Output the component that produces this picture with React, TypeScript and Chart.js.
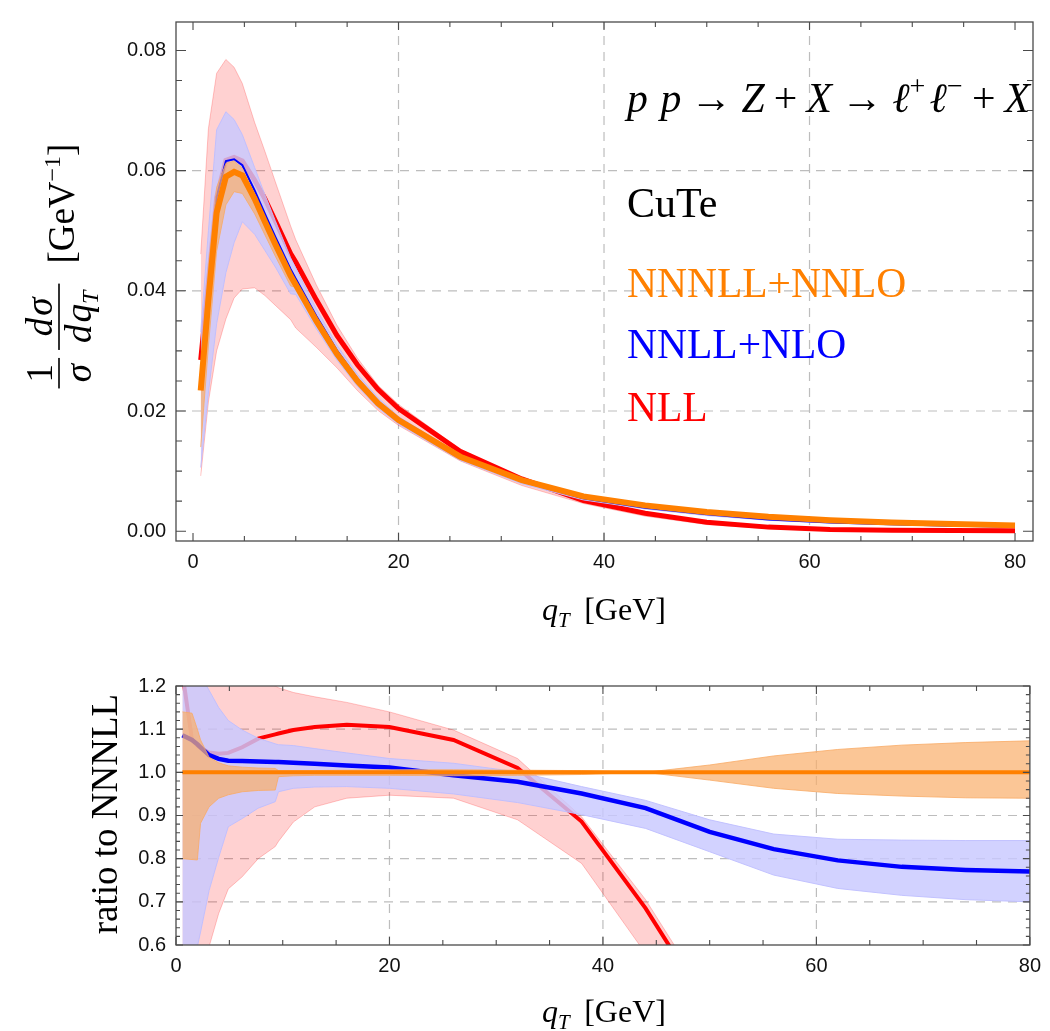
import React, { useEffect, useRef } from "react";
import { Chart, registerables } from "chart.js";

Chart.register(...registerables);

// ---------------- data (top panel: normalized distribution) ----------------
const topQ = [0.75, 1.5, 2.3, 3.2, 4, 4.8, 6, 7, 8, 9.5, 10, 12, 14, 16, 18, 20, 26, 32, 38, 44, 50, 56, 62, 68, 74, 80];

const nnnllTop = [0.0234, 0.0385, 0.053, 0.059, 0.0598, 0.0592, 0.0553, 0.0515, 0.0478, 0.0425, 0.041, 0.035, 0.0295, 0.025, 0.0213, 0.0185, 0.0124, 0.0085, 0.0058, 0.0043, 0.0032, 0.0024, 0.00184, 0.00146, 0.0012, 0.00097];
const nnnllTopHi = [0.0267, 0.0438, 0.0572, 0.0612, 0.0616, 0.0604, 0.056, 0.0521, 0.0483, 0.0429, 0.0412, 0.0352, 0.0297, 0.0252, 0.0215, 0.0187, 0.0125, 0.00857, 0.00583, 0.00429, 0.00325, 0.00247, 0.00194, 0.00155, 0.00128, 0.00104];
const nnnllTopLo = [0.014, 0.0308, 0.0466, 0.0543, 0.0565, 0.0562, 0.0528, 0.0493, 0.0458, 0.0408, 0.0406, 0.0347, 0.0292, 0.0248, 0.021, 0.0183, 0.0123, 0.00843, 0.00577, 0.00427, 0.00314, 0.00229, 0.00175, 0.00138, 0.00113, 0.00091];

const nnllTop = [0.0255, 0.0412, 0.0556, 0.0616, 0.0619, 0.0609, 0.0567, 0.0528, 0.049, 0.0436, 0.042, 0.0358, 0.0301, 0.0254, 0.0216, 0.0187, 0.0123, 0.0083, 0.0055, 0.0039, 0.0028, 0.00196, 0.00146, 0.00114, 0.00092, 0.00075];
const nnllTopHi = [0.0331, 0.05, 0.0668, 0.0698, 0.0685, 0.066, 0.0605, 0.056, 0.0517, 0.0455, 0.0438, 0.037, 0.031, 0.0261, 0.0222, 0.0191, 0.0127, 0.0085, 0.0056, 0.004, 0.0028, 0.00204, 0.00155, 0.00123, 0.00101, 0.00082];
const nnllTopLo = [0.0106, 0.023, 0.0345, 0.043, 0.048, 0.0515, 0.0494, 0.0467, 0.044, 0.0395, 0.0394, 0.0337, 0.0285, 0.0241, 0.0205, 0.0178, 0.0118, 0.0079, 0.0052, 0.0037, 0.0026, 0.00181, 0.00135, 0.00104, 0.00085, 0.00068];

const nllTop = [0.0285, 0.0415, 0.0555, 0.0617, 0.0622, 0.0616, 0.0584, 0.0553, 0.0517, 0.0462, 0.0448, 0.0385, 0.0326, 0.0277, 0.0236, 0.0204, 0.0133, 0.0087, 0.0051, 0.003, 0.00148, 0.00068, 0.0003, 0.00016, 0.0001, 0.00006];
const nllTopHi = [0.0461, 0.067, 0.0762, 0.0785, 0.0772, 0.0745, 0.068, 0.0632, 0.0582, 0.0508, 0.0485, 0.041, 0.0343, 0.0288, 0.0243, 0.0211, 0.0136, 0.0088, 0.0052, 0.003, 0.0016, 0.0008, 0.0004, 0.0002, 0.00012, 0.00008];
const nllTopLo = [0.0092, 0.0215, 0.03, 0.0353, 0.0388, 0.0403, 0.0405, 0.0392, 0.0376, 0.0352, 0.0338, 0.0306, 0.0272, 0.0234, 0.0201, 0.0176, 0.0117, 0.0076, 0.0046, 0.0025, 0.0011, 0.0004, 0.00012, 0.00005, 0.00003, 0.00002];

// ---------------- data (bottom panel: ratio to NNNLL) ----------------
const ratioQ = [0.6, 1.5, 2.0, 2.3, 3.1, 4, 4.9, 6.2, 7.7, 9.3, 9.6, 11, 13, 16, 20, 26, 32, 38, 44, 50, 56, 62, 68, 74, 80];

const nnnllRatio = [1, 1, 1, 1, 1, 1, 1, 1, 1, 1, 1, 1, 1, 1, 1, 1, 1, 1, 1, 1, 1, 1, 1, 1, 1];
const nnnllRatioHi = [1.14, 1.137, 1.1, 1.075, 1.035, 1.022, 1.015, 1.012, 1.01, 1.009, 1.004, 1.004, 1.004, 1.005, 1.006, 1.006, 1.005, 1.004, 1.0, 1.017, 1.038, 1.053, 1.063, 1.069, 1.073];
const nnnllRatioLo = [0.8, 0.798, 0.797, 0.882, 0.92, 0.94, 0.948, 0.955, 0.958, 0.959, 0.99, 0.992, 0.993, 0.993, 0.993, 0.992, 0.993, 0.995, 1.0, 0.982, 0.963, 0.951, 0.945, 0.941, 0.94];

const nnllRatio = [1.086, 1.075, 1.065, 1.058, 1.04, 1.031, 1.027, 1.026, 1.025, 1.024, 1.024, 1.022, 1.02, 1.016, 1.011, 0.993, 0.978, 0.951, 0.917, 0.862, 0.822, 0.796, 0.781, 0.774, 0.77];
const nnllRatioHi = [1.3, 1.27, 1.24, 1.225, 1.19, 1.15, 1.12, 1.098, 1.079, 1.066, 1.064, 1.062, 1.055, 1.045, 1.032, 1.021, 1.001, 0.967, 0.935, 0.89, 0.857, 0.845, 0.843, 0.842, 0.842];
const nnllRatioLo = [0.4, 0.5, 0.596, 0.63, 0.726, 0.803, 0.874, 0.893, 0.917, 0.932, 0.955, 0.963, 0.966, 0.967, 0.963, 0.95, 0.93, 0.902, 0.87, 0.816, 0.762, 0.731, 0.715, 0.705, 0.7];

const nllRatio = [1.23, 1.075, 1.062, 1.056, 1.046, 1.043, 1.045, 1.058, 1.078, 1.088, 1.09, 1.098, 1.105, 1.11, 1.105, 1.075, 1.01, 0.886, 0.685, 0.45, 0.28, 0.15, 0.1, 0.07, 0.05];
const nllRatioHi = [1.6, 1.55, 1.5, 1.48, 1.42, 1.36, 1.31, 1.26, 1.21, 1.2, 1.196, 1.185, 1.175, 1.162, 1.14, 1.098, 1.032, 0.897, 0.705, 0.47, 0.3, 0.16, 0.11, 0.08, 0.06];
const nllRatioLo = [0.2, 0.3, 0.4, 0.45, 0.596, 0.673, 0.73, 0.758, 0.8, 0.828, 0.84, 0.885, 0.92, 0.94, 0.947, 0.94, 0.89, 0.789, 0.58, 0.4, 0.25, 0.13, 0.09, 0.06, 0.04];

// ---------------- ticks and labels ----------------
const topXTicks = [0, 20, 40, 60, 80];
const topYTicks = [0, 0.02, 0.04, 0.06, 0.08];
const ratioXTicks = [0, 20, 40, 60, 80];
const ratioYTicks = [0.6, 0.7, 0.8, 0.9, 1.0, 1.1, 1.2];
const topXGrid = [20, 40, 60];
const topYGrid = [0.02, 0.04, 0.06];
const ratioXGrid = [20, 40, 60];
const ratioYGrid = [0.7, 0.8, 0.9, 1.0, 1.1];
const legendLabels = ["NNNLL+NNLO", "NNLL+NLO", "NLL"];
const codeName = "CuTe";
const ratioTitle = "ratio to NNNLL";

// ---------------- styles ----------------
const RED = "#ff0000";
const BLUE = "#0000ff";
const ORANGE = "#ff8000";
const RED_BAND = "rgba(255,0,0,0.18)";
const RED_EDGE = "rgba(255,0,0,0.22)";
const BLUE_BAND = "rgba(200,200,255,0.82)";
const BLUE_EDGE = "rgba(190,190,255,0.9)";
const ORANGE_BAND = "rgba(249,176,110,0.72)";
const ORANGE_EDGE = "rgba(249,170,100,0.8)";
const SERIF = '"Liberation Serif", "Times New Roman", "DejaVu Serif", serif';
const SANS = '"Liberation Sans", Arial, "DejaVu Sans", sans-serif';
const FRAME = "#4a4a4a";

type Run = { t: string; f: string; dy?: number; dx?: number };

function runsWidth(ctx: CanvasRenderingContext2D, runs: Run[]) {
  let w = 0;
  for (const r of runs) {
    ctx.font = r.f;
    w += ctx.measureText(r.t).width + (r.dx || 0);
  }
  return w;
}
function drawRuns(ctx: CanvasRenderingContext2D, runs: Run[], x: number, y: number) {
  let cx = x;
  for (const r of runs) {
    ctx.font = r.f;
    cx += r.dx || 0;
    ctx.fillText(r.t, cx, y + (r.dy || 0));
    cx += ctx.measureText(r.t).width;
  }
}

function pts(xs: number[], ys: number[]) {
  return xs.map((x, i) => ({ x, y: ys[i] }));
}

function buildDatasets(
  xs: number[],
  series: { c: number[]; lo: number[]; hi: number[]; line: string; band: string; edge: string; w: number }[]
) {
  const ds: any[] = [];
  let order = series.length * 2;
  series.forEach((s) => {
    const loIdx = ds.length;
    ds.push({ data: pts(xs, s.lo), borderColor: s.edge, borderWidth: 1, pointRadius: 0, fill: false, order, tension: 0 });
    ds.push({ data: pts(xs, s.hi), borderColor: s.edge, borderWidth: 1, pointRadius: 0, fill: loIdx, backgroundColor: s.band, order, tension: 0 });
    order -= 1;
    ds.push({ data: pts(xs, s.c), borderColor: s.line, borderWidth: s.w, pointRadius: 0, fill: false, order, tension: 0 });
    order -= 1;
  });
  ds.forEach((d) => (d.clip = 0));
  return ds;
}

function minorValues(lo: number, hi: number, step: number, majors: number[]) {
  const out: number[] = [];
  const n0 = Math.ceil(lo / step - 1e-9);
  const n1 = Math.floor(hi / step + 1e-9);
  for (let n = n0; n <= n1; n++) {
    const v = n * step;
    if (!majors.some((m) => Math.abs(m - v) < step * 1e-3)) out.push(v);
  }
  return out;
}

function framePlugin(cfg: {
  xMajor: number[]; xStep: number; yMajor: number[]; yStep: number;
  xGrid: number[]; yGrid: number[];
  xMaj: number; xMin: number; yMaj: number; yMin: number;
}) {
  return {
    id: "frameTicks",
    beforeDatasetsDraw(chart: any) {
      const { ctx, chartArea: a, scales } = chart;
      ctx.save();
      ctx.strokeStyle = "rgba(185,185,185,0.95)";
      ctx.lineWidth = 1.2;
      ctx.setLineDash([9, 7]);
      for (const v of cfg.xGrid) {
        const x = scales.x.getPixelForValue(v);
        ctx.beginPath(); ctx.moveTo(x, a.bottom); ctx.lineTo(x, a.top); ctx.stroke();
      }
      for (const v of cfg.yGrid) {
        const y = scales.y.getPixelForValue(v);
        ctx.beginPath(); ctx.moveTo(a.left, y); ctx.lineTo(a.right, y); ctx.stroke();
      }
      ctx.restore();
    },
    afterDatasetsDraw(chart: any) {
      const { ctx, chartArea: a, scales } = chart;
      ctx.save();
      ctx.strokeStyle = FRAME;
      ctx.lineWidth = 1.3;
      ctx.strokeRect(a.left, a.top, a.right - a.left, a.bottom - a.top);
      ctx.lineWidth = 1.1;
      const xs = scales.x, ys = scales.y;
      const xMinor = minorValues(xs.min, xs.max, cfg.xStep, cfg.xMajor);
      const yMinor = minorValues(ys.min, ys.max, cfg.yStep, cfg.yMajor);
      const xt = (v: number, len: number) => {
        const x = xs.getPixelForValue(v);
        ctx.beginPath();
        ctx.moveTo(x, a.bottom); ctx.lineTo(x, a.bottom - len);
        ctx.moveTo(x, a.top); ctx.lineTo(x, a.top + len);
        ctx.stroke();
      };
      const yt = (v: number, len: number) => {
        const y = ys.getPixelForValue(v);
        ctx.beginPath();
        ctx.moveTo(a.left, y); ctx.lineTo(a.left + len, y);
        ctx.moveTo(a.right, y); ctx.lineTo(a.right - len, y);
        ctx.stroke();
      };
      cfg.xMajor.forEach((v) => xt(v, cfg.xMaj));
      xMinor.forEach((v) => xt(v, cfg.xMin));
      cfg.yMajor.forEach((v) => yt(v, cfg.yMaj));
      yMinor.forEach((v) => yt(v, cfg.yMin));
      ctx.restore();
    },
  };
}

function qtRuns(S: number): Run[] {
  return [
    { t: "q", f: `italic ${S}px ${SERIF}` },
    { t: "T", f: `italic ${Math.round(S * 0.66)}px ${SERIF}`, dy: S * 0.22 },
    { t: "[GeV]", f: `${S}px ${SERIF}`, dx: S * 0.45 },
  ];
}

function drawFrac(ctx: CanvasRenderingContext2D, num: Run[], den: Run[], u: number, fw: number, S: number) {
  drawRuns(ctx, num, u + (fw - runsWidth(ctx, num)) / 2, -S * 0.2);
  drawRuns(ctx, den, u + (fw - runsWidth(ctx, den)) / 2, S * 0.86);
  ctx.fillRect(u, -0.8, fw, 1.6);
}

const topTextPlugin = {
  id: "topText",
  afterDraw(chart: any) {
    const ctx: CanvasRenderingContext2D = chart.ctx;
    ctx.save();
    ctx.textAlign = "left";
    ctx.textBaseline = "alphabetic";
    ctx.fillStyle = "#000";

    // process label
    const mk = (S: number): Run[] => {
      const it = `italic ${S}px ${SERIF}`;
      const rm = `${S}px ${SERIF}`;
      const sp = `${Math.round(S * 0.66)}px ${SERIF}`;
      const up = -S * 0.4;
      const g = S * 0.22;
      return [
        { t: "p", f: it }, { t: "p", f: it, dx: S * 0.3 },
        { t: "\u2192", f: rm, dx: g }, { t: "Z", f: it, dx: g }, { t: "+", f: rm, dx: g }, { t: "X", f: it, dx: g },
        { t: "\u2192", f: rm, dx: g }, { t: "\u2113", f: it, dx: g }, { t: "+", f: sp, dy: up },
        { t: "\u2113", f: it, dx: S * 0.1 }, { t: "\u2212", f: sp, dy: up },
        { t: "+", f: rm, dx: g }, { t: "X", f: it, dx: g },
      ];
    };
    let S = 36;
    const w0 = runsWidth(ctx, mk(S));
    S = (S * 403) / w0;
    drawRuns(ctx, mk(S), 627, 112);

    ctx.font = `42px ${SERIF}`;
    ctx.fillStyle = "#000";
    ctx.fillText(codeName, 627, 217);
    ctx.font = `41.5px ${SERIF}`;
    ctx.fillStyle = ORANGE;
    ctx.fillText(legendLabels[0], 627, 297);
    ctx.fillStyle = BLUE;
    ctx.fillText(legendLabels[1], 627, 358);
    ctx.fillStyle = RED;
    ctx.fillText(legendLabels[2], 627, 421);

    // x title
    ctx.fillStyle = "#000";
    const xr = qtRuns(32);
    drawRuns(ctx, xr, 604 - runsWidth(ctx, xr) / 2, 620);

    // y title (rotated)
    const Y = 37;
    const rm = `${Y}px ${SERIF}`, it = `italic ${Y}px ${SERIF}`;
    const sub = `italic ${Math.round(Y * 0.64)}px ${SERIF}`, sup = `${Math.round(Y * 0.64)}px ${SERIF}`;
    ctx.translate(59, 0);
    ctx.rotate(-Math.PI / 2);
    const num1: Run[] = [{ t: "1", f: rm }], den1: Run[] = [{ t: "\u03c3", f: it }];
    const num2: Run[] = [{ t: "d", f: it }, { t: "\u03c3", f: it, dx: 2 }];
    const den2: Run[] = [{ t: "d", f: it }, { t: "q", f: it, dx: 2 }, { t: "T", f: sub, dy: Y * 0.2 }];
    const tail: Run[] = [{ t: "[GeV", f: rm }, { t: "\u22121", f: sup, dy: -Y * 0.38 }, { t: "]", f: rm }];
    const fw1 = Math.max(runsWidth(ctx, num1), runsWidth(ctx, den1)) + 12;
    const fw2 = Math.max(runsWidth(ctx, num2), runsWidth(ctx, den2)) + 14;
    const tw = runsWidth(ctx, tail);
    const g1 = 8, g2 = 20;
    const total = fw1 + g1 + fw2 + g2 + tw;
    let u = -(266 + total / 2);
    drawFrac(ctx, num1, den1, u, fw1, Y);
    u += fw1 + g1;
    drawFrac(ctx, num2, den2, u, fw2, Y);
    u += fw2 + g2;
    drawRuns(ctx, tail, u, Y * 0.28 + 5);
    ctx.restore();
  },
};

const bottomTextPlugin = {
  id: "bottomText",
  afterDraw(chart: any) {
    const ctx: CanvasRenderingContext2D = chart.ctx;
    ctx.save();
    ctx.textAlign = "left";
    ctx.textBaseline = "alphabetic";
    ctx.fillStyle = "#000";
    const xr = qtRuns(32);
    drawRuns(ctx, xr, 604 - runsWidth(ctx, xr) / 2, 372);
    ctx.translate(117, 164);
    ctx.rotate(-Math.PI / 2);
    ctx.textAlign = "center";
    ctx.font = `37px ${SERIF}`;
    ctx.fillText(ratioTitle, 0, 0);
    ctx.restore();
  },
};

const tickFont = { family: SANS, size: 20 };

export default function App() {
  const topRef = useRef<HTMLCanvasElement>(null);
  const botRef = useRef<HTMLCanvasElement>(null);

  useEffect(() => {
    const topChart = new Chart(topRef.current as HTMLCanvasElement, {
      type: "line",
      data: {
        datasets: buildDatasets(topQ, [
          { c: nllTop, lo: nllTopLo, hi: nllTopHi, line: RED, band: RED_BAND, edge: RED_EDGE, w: 5 },
          { c: nnllTop, lo: nnllTopLo, hi: nnllTopHi, line: BLUE, band: BLUE_BAND, edge: BLUE_EDGE, w: 2 },
          { c: nnnllTop, lo: nnnllTopLo, hi: nnnllTopHi, line: ORANGE, band: ORANGE_BAND, edge: ORANGE_EDGE, w: 6 },
        ]),
      },
      options: {
        responsive: false,
        animation: false,
        devicePixelRatio: 1,
        layout: { padding: { left: 0, right: 17, top: 11, bottom: 0 } },
        plugins: { legend: { display: false }, tooltip: { enabled: false }, filler: { propagate: false } },
        scales: {
          x: {
            type: "linear", min: -1.655, max: 81.75,
            grid: { display: false, drawTicks: false }, border: { display: false },
            afterBuildTicks: (s: any) => { s.ticks = topXTicks.map((v) => ({ value: v })); },
            afterFit: (s: any) => { s.height = 109; },
            ticks: { font: tickFont, color: "#111", padding: 9, maxRotation: 0, autoSkip: false, callback: (v: any) => String(v) },
          },
          y: {
            type: "linear", min: -0.00163, max: 0.08473,
            grid: { display: false, drawTicks: false }, border: { display: false },
            afterBuildTicks: (s: any) => { s.ticks = topYTicks.map((v) => ({ value: v })); },
            afterFit: (s: any) => { s.width = 176; },
            ticks: { font: tickFont, color: "#111", padding: 10, autoSkip: false, callback: (v: any) => Number(v).toFixed(2) },
          },
        },
      } as any,
      plugins: [
        framePlugin({ xMajor: topXTicks, xStep: 5, yMajor: topYTicks, yStep: 0.005, xGrid: topXGrid, yGrid: topYGrid, xMaj: 8, xMin: 5, yMaj: 10, yMin: 6 }),
        topTextPlugin,
      ],
    });

    const botChart = new Chart(botRef.current as HTMLCanvasElement, {
      type: "line",
      data: {
        datasets: buildDatasets(ratioQ, [
          { c: nllRatio, lo: nllRatioLo, hi: nllRatioHi, line: RED, band: RED_BAND, edge: RED_EDGE, w: 4 },
          { c: nnllRatio, lo: nnllRatioLo, hi: nnllRatioHi, line: BLUE, band: BLUE_BAND, edge: BLUE_EDGE, w: 4.5 },
          { c: nnnllRatio, lo: nnnllRatioLo, hi: nnnllRatioHi, line: ORANGE, band: ORANGE_BAND, edge: ORANGE_EDGE, w: 4 },
        ]),
      },
      options: {
        responsive: false,
        animation: false,
        devicePixelRatio: 1,
        layout: { padding: { left: 0, right: 11, top: 36, bottom: 0 } },
        plugins: { legend: { display: false }, tooltip: { enabled: false }, filler: { propagate: false } },
        scales: {
          x: {
            type: "linear", min: 0, max: 80,
            grid: { display: false, drawTicks: false }, border: { display: false },
            afterBuildTicks: (s: any) => { s.ticks = ratioXTicks.map((v) => ({ value: v })); },
            afterFit: (s: any) => { s.height = 86; },
            ticks: { font: tickFont, color: "#111", padding: 9, maxRotation: 0, autoSkip: false, callback: (v: any) => String(v) },
          },
          y: {
            type: "linear", min: 0.6, max: 1.2,
            grid: { display: false, drawTicks: false }, border: { display: false },
            afterBuildTicks: (s: any) => { s.ticks = ratioYTicks.map((v) => ({ value: v })); },
            afterFit: (s: any) => { s.width = 176; },
            ticks: { font: tickFont, color: "#111", padding: 10, autoSkip: false, callback: (v: any) => Number(v).toFixed(1) },
          },
        },
      } as any,
      plugins: [
        framePlugin({ xMajor: ratioXTicks, xStep: 5, yMajor: ratioYTicks, yStep: 0.02, xGrid: ratioXGrid, yGrid: ratioYGrid, xMaj: 8, xMin: 5, yMaj: 7, yMin: 4 }),
        bottomTextPlugin,
      ],
    });

    return () => {
      topChart.destroy();
      botChart.destroy();
    };
  }, []);

  return (
    <div style={{ position: "absolute", left: 0, top: 0, width: 1050, height: 1031, background: "#fff" }}>
      <canvas ref={topRef} width={1050} height={650} style={{ position: "absolute", left: 0, top: 0 }} />
      <canvas ref={botRef} width={1050} height={381} style={{ position: "absolute", left: 0, top: 650 }} />
    </div>
  );
}
